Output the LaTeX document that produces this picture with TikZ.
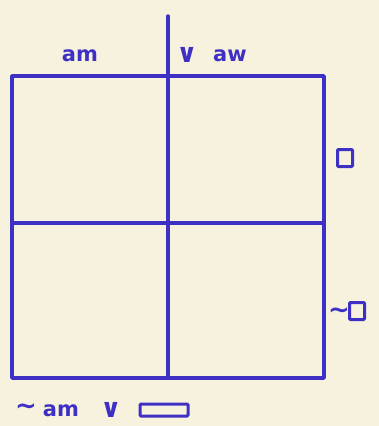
\documentclass[tikz,border=0pt]{standalone}
\usepackage{fontspec}
\setmainfont{DejaVu Sans}
\definecolor{ink}{RGB}{62,48,196}
\definecolor{paper}{RGB}{247,242,222}
\begin{document}
\begin{tikzpicture}[x=1pt,y=-1pt,
  grid/.style={draw=ink,line width=3.5pt,line cap=round,line join=round},
  lbl/.style={text=ink,font=\bfseries\fontsize{21}{21}\selectfont,inner sep=0pt},
  sym/.style={text=ink,font=\bfseries\fontsize{26}{26}\selectfont,inner sep=0pt},
  symbox/.style={draw=ink,line width=3pt,rounded corners=1pt,inner sep=0pt}]
\fill[paper] (0,0) rectangle (379,426);
\useasboundingbox (0,0) rectangle (379,426);
% grid
\coordinate (tl) at (12,76);
\coordinate (br) at (324,378);
\coordinate (vtop) at (168,16);
\coordinate (vbot) at (168,378);
\coordinate (hl) at (12,223);
\coordinate (hr) at (324,223);
\draw[grid] (tl) rectangle (br);
\draw[grid] (vtop) -- (vbot);
\draw[grid] (hl) -- (hr);
% top labels
\node[lbl] (am) at (80,56) {am};
\node[sym] (or1) at (187,55) {∨};
\node[lbl] (aw) at (230,56) {aw};
% right labels
\node[symbox,minimum width=15pt,minimum height=17pt] (box1) at (345,158) {};
\node[sym] (neg1) at (339,313) {∼};
\node[symbox,minimum width=15pt,minimum height=17pt] (box2) at (357,311) {};
% bottom label
\node[sym] (neg2) at (26,409) {∼};
\node[lbl] (am2) at (61,411) {am};
\node[sym] (or2) at (111,410) {∨};
\node[symbox,minimum width=48pt,minimum height=12pt] (box3) at (164,410) {};
\end{tikzpicture}
\end{document}
